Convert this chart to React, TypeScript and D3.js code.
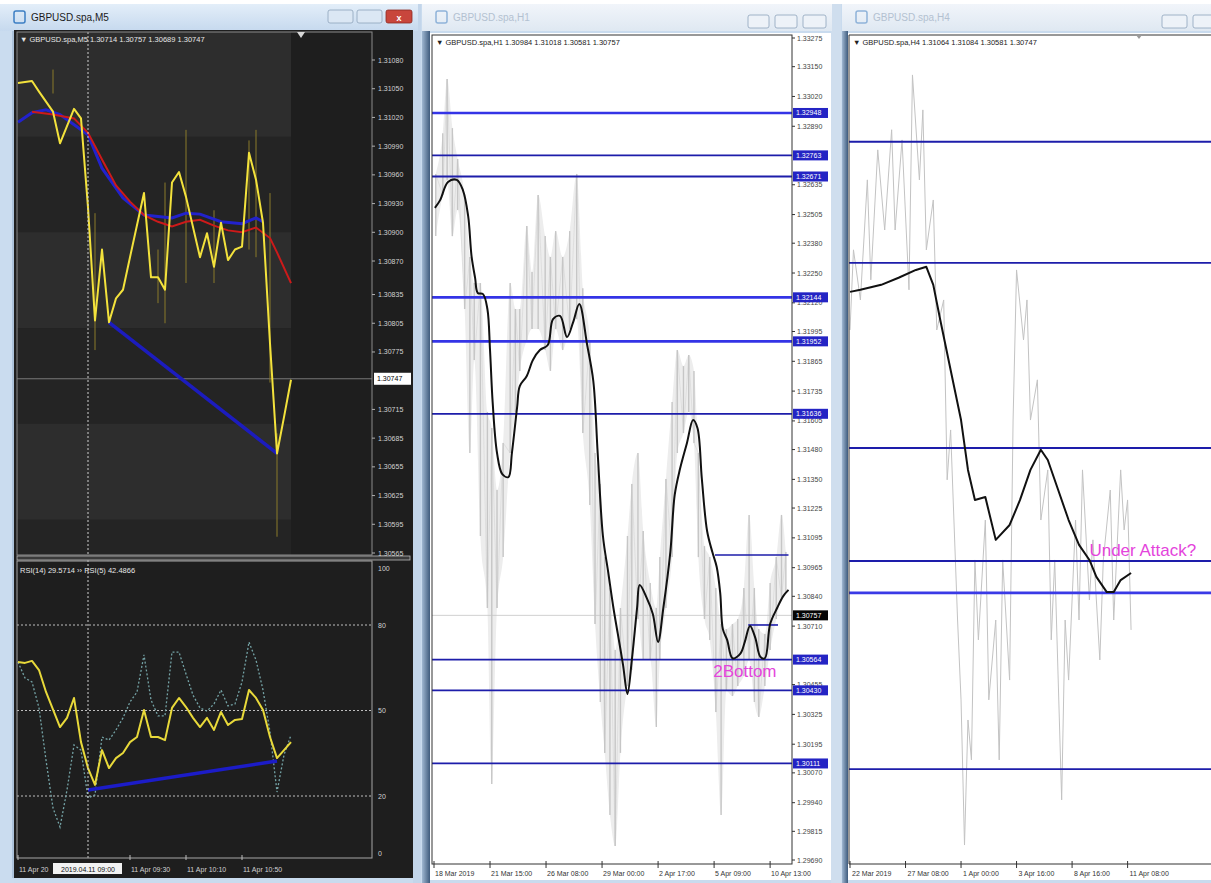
import * as d3 from 'd3';

const W = 1211;
const H = 883;

// ---------- GBPUSD.spa,M5 (left window) ----------
const m5Header = '▼ GBPUSD.spa,M5  1.30714 1.30757 1.30689 1.30747';
const m5Times = ['08:10', '08:20', '08:25', '08:35', '08:40', '08:50', '08:55', '09:00', '09:05', '09:10', '09:15', '09:20', '09:25', '09:30', '09:40', '09:45', '09:50', '09:55', '10:00', '10:05', '10:10', '10:20', '10:25', '10:30', '10:35', '10:40', '10:45', '10:50', '10:55', '11:00', '11:05', '11:10', '11:15', '11:20', '11:25'];
const m5Close = [1.31056, 1.31058, 1.31047, 1.31026, 1.30993, 1.31029, 1.31019, 1.30926, 1.30808, 1.30882, 1.30806, 1.30831, 1.3084, 1.30874, 1.30941, 1.30853, 1.30853, 1.3084, 1.30952, 1.30963, 1.30937, 1.30874, 1.30899, 1.30864, 1.3091, 1.30871, 1.30882, 1.30885, 1.30983, 1.30955, 1.3091, 1.30784, 1.30669, 1.30707, 1.30746];
const m5BlueTimes = ['08:10', '08:20', '08:30', '08:40', '09:00', '09:10', '09:25', '09:40', '10:00', '10:10', '10:20', '10:35', '10:50', '11:00', '11:05'];
const m5Blue = [1.31015, 1.31025, 1.31028, 1.31023, 1.31002, 1.30967, 1.30936, 1.30918, 1.30915, 1.3092, 1.30919, 1.30911, 1.30909, 1.30915, 1.30911];
const m5RedTimes = ['08:20', '08:35', '08:50', '09:00', '09:10', '09:20', '09:30', '09:40', '09:50', '10:00', '10:10', '10:20', '10:30', '10:40', '10:50', '11:00', '11:10', '11:15', '11:25'];
const m5Red = [1.31026, 1.31023, 1.31019, 1.31004, 1.30976, 1.30949, 1.30932, 1.30918, 1.30911, 1.30906, 1.30911, 1.30913, 1.30907, 1.30902, 1.309, 1.30905, 1.30894, 1.30879, 1.30847];
const m5WickTimes = ['08:35', '09:05', '09:50', '09:55', '10:10', '10:30', '10:55', '11:00', '11:10', '11:15'];
const m5WickHigh = [1.3107, 1.3092, 1.30882, 1.30952, 1.31007, 1.30923, 1.30996, 1.31007, 1.30941, 1.3069];
const m5WickLow = [1.31045, 1.30777, 1.30826, 1.30805, 1.30847, 1.30847, 1.30882, 1.30874, 1.30743, 1.30582];
const m5TrendTimes = ['09:15', '11:15'];
const m5TrendPrices = [1.30806, 1.30669];
const m5ZoneTop = [1.3115, 1.309, 1.307];
const m5ZoneBottom = [1.31, 1.308, 1.306];
const m5PriceTicks = [1.3108, 1.3105, 1.3102, 1.3099, 1.3096, 1.3093, 1.309, 1.3087, 1.30835, 1.30805, 1.30775, 1.30715, 1.30685, 1.30655, 1.30625, 1.30595, 1.30565];
const m5Last = 1.30747;
const m5Cross = '09:00';
const m5CrossLabel = '2019.04.11 09:00';
const m5DateTimes = ['08:10', '09:30', '10:10', '10:50'];
const m5DateLabels = ['11 Apr 20', '11 Apr 09:30', '11 Apr 10:10', '11 Apr 10:50'];

const rsiHeader = 'RSI(14) 29.5714   ›› RSI(5) 42.4866';
const rsi14Times = ['08:10', '08:15', '08:20', '08:25', '08:30', '08:40', '08:45', '08:50', '08:55', '09:00', '09:05', '09:10', '09:15', '09:20', '09:25', '09:30', '09:35', '09:40', '09:45', '09:50', '09:55', '10:00', '10:05', '10:10', '10:15', '10:20', '10:25', '10:30', '10:35', '10:40', '10:45', '10:50', '10:55', '11:00', '11:05', '11:10', '11:15', '11:20', '11:25'];
const rsi14 = [67.0, 66.7, 67.4, 64.2, 56.5, 44.2, 47.4, 54.4, 38.9, 29.8, 23.9, 36.1, 29.8, 33.3, 35.1, 38.9, 40.7, 50.2, 40.7, 40.7, 39.6, 50.9, 54.4, 51.2, 47.4, 44.2, 47.4, 43.2, 49.5, 44.9, 46.7, 47.0, 57.2, 54.4, 50.2, 40.7, 33.3, 36.1, 38.9];
const rsi5Start = '08:10';
const rsi5 = [67.0, 61.4, 60.0, 50.9, 32.6, 15.8, 9.1, 22.1, 37.9, 36.1, 19.3, 20.4, 40.7, 39.6, 43.2, 47.4, 53.0, 56.5, 69.5, 53.7, 48.1, 48.1, 70.5, 70.5, 62.8, 55.4, 50.9, 49.8, 52.3, 57.2, 51.6, 52.3, 60.0, 74.0, 67.7, 57.2, 42.5, 21.4, 34.4, 41.4];
const rsiLevels = [80, 50, 20];
const rsiTicks = [100, 80, 50, 20, 0];
const rsiTrendTimes = ['09:00', '11:15'];
const rsiTrendValues = [22.1, 32.3];

// ---------- GBPUSD.spa,H1 (middle window) ----------
const h1Header = '▼ GBPUSD.spa,H1  1.30984 1.31018 1.30581 1.30757';
const h1DateBars = [0, 64, 128, 192, 256, 320, 384];
const h1DateLabels = ['18 Mar 2019', '21 Mar 15:00', '26 Mar 08:00', '29 Mar 00:00', '2 Apr 17:00', '5 Apr 09:00', '10 Apr 13:00'];
const h1PriceTicks = [1.33275, 1.3315, 1.3302, 1.3289, 1.32635, 1.32505, 1.3238, 1.3225, 1.3212, 1.31995, 1.31865, 1.31735, 1.31605, 1.3148, 1.3135, 1.31225, 1.31095, 1.30965, 1.3084, 1.3071, 1.30455, 1.30325, 1.30195, 1.3007, 1.2994, 1.29815, 1.2969];
const h1Levels = [1.32948, 1.32763, 1.32671, 1.32144, 1.31952, 1.31636, 1.30564, 1.3043, 1.30111];
const h1ShortFrom = [321, 359];
const h1ShortTo = [405, 393];
const h1ShortPrice = [1.3102, 1.30715];
const h1BarIdx = [2, 10, 15, 21, 27, 35, 41, 46, 53, 61, 66, 72, 79, 87, 93, 98, 106, 112, 119, 127, 133, 139, 147, 155, 163, 170, 178, 184, 190, 195, 201, 207, 213, 221, 226, 233, 239, 247, 254, 258, 265, 272, 278, 285, 291, 297, 302, 309, 315, 322, 328, 334, 341, 347, 354, 360, 366, 371, 378, 384, 391, 397, 402];
const h1High = [1.32682, 1.3286, 1.33096, 1.32882, 1.32747, 1.3259, 1.3232, 1.32206, 1.32206, 1.31644, 1.31574, 1.31304, 1.31509, 1.32206, 1.32093, 1.32093, 1.32455, 1.32254, 1.3259, 1.32411, 1.3232, 1.32433, 1.3232, 1.32433, 1.32682, 1.32184, 1.31958, 1.31465, 1.3133, 1.31011, 1.30876, 1.30606, 1.30789, 1.31103, 1.3133, 1.31465, 1.31125, 1.30898, 1.30789, 1.31011, 1.31352, 1.31687, 1.31914, 1.31844, 1.31892, 1.31823, 1.31465, 1.31059, 1.31011, 1.30876, 1.30719, 1.30697, 1.30719, 1.30741, 1.30876, 1.31195, 1.30876, 1.30697, 1.30676, 1.30898, 1.31011, 1.31195, 1.31033];
const h1Low = [1.32411, 1.3259, 1.32655, 1.32411, 1.32525, 1.32093, 1.31465, 1.31871, 1.31103, 1.30789, 1.30021, 1.30789, 1.31011, 1.31465, 1.31644, 1.31823, 1.31958, 1.32006, 1.32006, 1.31914, 1.31823, 1.32006, 1.31914, 1.32006, 1.32049, 1.31552, 1.31238, 1.30719, 1.30379, 1.30157, 1.29886, 1.29751, 1.30157, 1.30449, 1.30519, 1.30741, 1.30562, 1.30562, 1.3027, 1.30562, 1.30789, 1.31011, 1.31465, 1.31552, 1.31644, 1.31509, 1.31011, 1.30741, 1.30649, 1.30335, 1.29886, 1.30427, 1.30405, 1.30449, 1.30492, 1.30562, 1.30379, 1.30314, 1.30449, 1.30606, 1.30741, 1.30833, 1.30854];
const h1MaBars = [1, 7, 16, 26, 33, 39, 43, 47, 50, 56, 61, 64, 67, 72, 78, 85, 89, 95, 98, 106, 113, 121, 130, 136, 144, 152, 159, 166, 175, 182, 187, 193, 199, 205, 210, 216, 221, 226, 232, 235, 243, 250, 256, 262, 270, 275, 281, 289, 296, 301, 306, 312, 318, 323, 327, 330, 335, 341, 350, 355, 361, 367, 373, 378, 384, 392, 399, 405];
const h1Ma = [1.32534, 1.32568, 1.32647, 1.32656, 1.32612, 1.32499, 1.3232, 1.32228, 1.32163, 1.32158, 1.32093, 1.31914, 1.31687, 1.31465, 1.31373, 1.3136, 1.31465, 1.31666, 1.31757, 1.31801, 1.31871, 1.31914, 1.31936, 1.32049, 1.32063, 1.31971, 1.32036, 1.32115, 1.31936, 1.31779, 1.31465, 1.31103, 1.30946, 1.30789, 1.30676, 1.3054, 1.30414, 1.30562, 1.30789, 1.30889, 1.30833, 1.30763, 1.30641, 1.30789, 1.31033, 1.31282, 1.31395, 1.31509, 1.31609, 1.31574, 1.31352, 1.31125, 1.31033, 1.30968, 1.30854, 1.30697, 1.30649, 1.3057, 1.3059, 1.3064, 1.30711, 1.3066, 1.30575, 1.3057, 1.30719, 1.30789, 1.30841, 1.30868];
const h1Last = 1.30757;
const h1Note = '2Bottom';
const h1NoteBar = 319;
const h1NotePrice = 1.3051;

// ---------- GBPUSD.spa,H4 (right window) ----------
const h4Header = '▼ GBPUSD.spa,H4  1.31064 1.31084 1.30581 1.30747';
const h4DateBars = [0, 16, 32, 48, 64, 80];
const h4DateLabels = ['22 Mar 2019', '27 Mar 08:00', '1 Apr 00:00', '3 Apr 16:00', '8 Apr 16:00', '11 Apr 08:00'];
const h4Levels = [1.32444, 1.3198, 1.31271, 1.30838, 1.30716, 1.30041];
const h4CloseBars = [0, 1, 3, 5, 6, 8, 10, 12, 13, 15, 17, 18, 20, 21, 22, 24, 25, 27, 28, 29, 31, 32, 33, 34, 35, 36, 37, 39, 40, 42, 43, 44, 46, 47, 48, 50, 51, 52, 54, 55, 57, 58, 59, 61, 62, 63, 65, 66, 67, 69, 70, 72, 73, 75, 76, 78, 79, 80, 81];
const h4Close = [1.31723, 1.3203, 1.31838, 1.32298, 1.31915, 1.32413, 1.32106, 1.3249, 1.32106, 1.32451, 1.31877, 1.327, 1.32298, 1.32566, 1.3203, 1.32221, 1.31723, 1.31838, 1.31149, 1.3134, 1.30612, 1.30306, 1.2975, 1.30229, 1.30076, 1.30842, 1.30536, 1.30995, 1.30306, 1.30612, 1.30076, 1.30842, 1.30382, 1.31378, 1.31953, 1.31685, 1.31838, 1.31378, 1.31532, 1.30995, 1.31187, 1.30536, 1.30842, 1.29923, 1.30612, 1.30382, 1.30995, 1.30612, 1.31187, 1.30689, 1.30919, 1.30459, 1.30842, 1.3111, 1.30612, 1.31187, 1.30957, 1.31072, 1.30574];
const h4MaBars = [0, 3, 9, 14, 19, 22, 24, 26, 29, 32, 34, 36, 39, 42, 46, 49, 52, 55, 57, 60, 63, 66, 69, 71, 74, 76, 78, 81];
const h4Ma = [1.31869, 1.31877, 1.31896, 1.31923, 1.31953, 1.31965, 1.31896, 1.31762, 1.3157, 1.31378, 1.31187, 1.31072, 1.31083, 1.30919, 1.30976, 1.31072, 1.31187, 1.31264, 1.31225, 1.3111, 1.30995, 1.309, 1.30842, 1.30777, 1.30719, 1.30719, 1.30765, 1.30792];
const h4Note = 'Under Attack?';
const h4NoteBar = 69;
const h4NotePrice = 1.3088;

const FONT = '"Liberation Sans", "DejaVu Sans", Arial, sans-serif';
const fmt5 = d3.format('.5f');
const hm = d3.timeParse('%H:%M');
const t = (s: string) => hm(s) as Date;

function zip<A, B>(a: A[], b: B[]): [A, B][] {
  return a.map((v, i) => [v, b[i]]);
}

function TitleBar({ x, w, title, active, buttons }: { x: number; w: number; title: string; active: boolean; buttons: number[][] }) {
  return (
    <g>
      <rect x={x} y={4} width={w} height={27} fill={active ? 'url(#tbActive)' : 'url(#tbIdle)'} />
      <rect x={x + 14} y={11} width={11} height={12} rx={2} fill="none" stroke={active ? '#3d7fc4' : '#8fb3d9'} strokeWidth={1.5} />
      <text x={x + 31} y={21} fontSize={10} fill={active ? '#1b1b1b' : '#b3c1d1'}>{title}</text>
      {buttons.map(([bx, bw, red], i) => (
        <g key={i}>
          <rect x={bx} y={active ? 10 : 15} width={bw} height={13} rx={2} fill={red ? '#c8463c' : active ? '#dbe7f4' : '#edf2f8'} stroke={red ? '#8e2a22' : '#8ea3bb'} strokeWidth={0.8} />
          {red ? <text x={bx + bw / 2} y={active ? 20.5 : 25} fontSize={9} textAnchor="middle" fill="#fff" fontWeight="bold">x</text> : null}
        </g>
      ))}
    </g>
  );
}

function LeftWindow() {
  const xM5 = d3.scaleTime().domain([t('08:10'), t('11:25')]).range([18, 291]);
  const yM5 = d3.scaleLinear().domain([1.30565, 1.3108]).range([553, 60]);
  const yRsi = d3.scaleLinear().domain([0, 100]).range([853, 568]);
  const priceLine = d3.line<[string, number]>().x((d) => xM5(t(d[0]))).y((d) => yM5(d[1]));
  const rsiLine = d3.line<[Date, number]>().x((d) => xM5(d[0])).y((d) => yRsi(d[1]));
  const rsi5Times = rsi5.map((_, i) => d3.timeMinute.offset(t(rsi5Start), 5 * i));
  const plotL = 17;
  const plotR = 372;
  const xCross = xM5(t(m5Cross));
  const zoneR = xM5(t(m5Times[m5Times.length - 1]));

  return (
    <g>
      <rect x={14} y={30} width={399} height={848} fill="#1e1e1e" />
      <clipPath id="m5clip"><rect x={plotL} y={32} width={plotR - plotL} height={523} /></clipPath>
      <clipPath id="rsiclip"><rect x={plotL} y={561} width={plotR - plotL} height={297} /></clipPath>
      <g clipPath="url(#m5clip)">
        <rect x={plotL} y={32} width={zoneR - plotL} height={523} fill="#242424" />
        {m5ZoneTop.map((top, i) => (
          <rect key={i} x={plotL} y={yM5(top)} width={zoneR - plotL} height={yM5(m5ZoneBottom[i]) - yM5(top)} fill="#2d2d2d" />
        ))}
        <line x1={plotL} x2={plotR} y1={yM5(m5Last)} y2={yM5(m5Last)} stroke="#8f8f8f" strokeWidth={0.8} />
        {m5WickTimes.map((tm, i) => (
          <line key={i} x1={xM5(t(tm))} x2={xM5(t(tm))} y1={yM5(m5WickHigh[i])} y2={yM5(m5WickLow[i])} stroke="#8a7b2a" strokeWidth={1} />
        ))}
        <path d={priceLine(zip(m5BlueTimes, m5Blue)) ?? ''} fill="none" stroke="#2222cc" strokeWidth={3} />
        <path d={priceLine(zip(m5RedTimes, m5Red)) ?? ''} fill="none" stroke="#cc1a1a" strokeWidth={2} />
        <path d={priceLine(zip(m5TrendTimes, m5TrendPrices)) ?? ''} fill="none" stroke="#1c1cbe" strokeWidth={3.5} />
        <path d={priceLine(zip(m5Times, m5Close)) ?? ''} fill="none" stroke="#f3e23c" strokeWidth={2} strokeLinejoin="round" />
      </g>
      <g clipPath="url(#rsiclip)">
        {rsiLevels.map((lv) => (
          <line key={lv} x1={plotL} x2={plotR} y1={yRsi(lv)} y2={yRsi(lv)} stroke="#bdbdbd" strokeWidth={1} strokeDasharray="2,2" />
        ))}
        <path d={rsiLine(zip(rsi5Times, rsi5)) ?? ''} fill="none" stroke="#74a3a6" strokeWidth={1.3} strokeDasharray="2,2" />
        <path d={rsiLine(zip(rsiTrendTimes.map(t), rsiTrendValues)) ?? ''} fill="none" stroke="#1c1cc8" strokeWidth={3.5} />
        <path d={rsiLine(zip(rsi14Times.map(t), rsi14)) ?? ''} fill="none" stroke="#e8d93a" strokeWidth={2} strokeLinejoin="round" />
      </g>
      <line x1={xCross} x2={xCross} y1={32} y2={858} stroke="#cfcfcf" strokeWidth={1} strokeDasharray="2,2" />
      {/* frames */}
      <rect x={plotL} y={32} width={plotR - plotL} height={523} fill="none" stroke="#8a8a8a" strokeWidth={1} />
      <rect x={plotL} y={556} width={plotR - plotL + 38} height={4} fill="#3a3a3a" stroke="#b8b8b8" strokeWidth={0.8} />
      <rect x={plotL} y={561} width={plotR - plotL} height={297} fill="none" stroke="#a6a6a6" strokeWidth={1} />
      <polygon points="297,32 305,32 301,38" fill="#d8d8d8" />
      <text x={20} y={42} fontSize={7.5} fill="#e6e6e6">{m5Header}</text>
      <text x={20} y={573} fontSize={7.5} fill="#e6e6e6">{rsiHeader}</text>
      {/* price axis */}
      {m5PriceTicks.map((p) => (
        <g key={p}>
          <line x1={plotR} x2={plotR + 3} y1={yM5(p)} y2={yM5(p)} stroke="#b0b0b0" />
          <text x={plotR + 6} y={yM5(p)} dominantBaseline="central" fontSize={7} fill="#d2d2d2">{fmt5(p)}</text>
        </g>
      ))}
      <rect x={plotR + 2} y={yM5(m5Last) - 6} width={37} height={12} fill="#ffffff" />
      <text x={plotR + 5} y={yM5(m5Last)} dominantBaseline="central" fontSize={7} fill="#000">{fmt5(m5Last)}</text>
      {rsiTicks.map((v) => (
        <text key={v} x={plotR + 6} y={yRsi(v)} dominantBaseline="central" fontSize={7} fill="#d2d2d2">{v}</text>
      ))}
      {/* time axis */}
      {m5DateTimes.map((tm, i) => (
        <g key={tm}>
          <line x1={xM5(t(tm))} x2={xM5(t(tm))} y1={855} y2={860} stroke="#bdbdbd" />
          <text x={xM5(t(tm)) + 1} y={869} dominantBaseline="central" fontSize={7} fill="#d2d2d2">{m5DateLabels[i]}</text>
        </g>
      ))}
      <rect x={xCross - 35} y={863} width={69} height={11} fill="#f2f2f2" />
      <text x={xCross} y={869} textAnchor="middle" dominantBaseline="central" fontSize={7} fill="#111">{m5CrossLabel}</text>
    </g>
  );
}

function MiddleWindow() {
  const xH1 = d3.scaleLinear().domain([0, 409]).range([434, 792]);
  const yH1 = d3.scaleLinear().domain([1.2969, 1.33275]).range([860, 38]);
  const maLine = d3.line<[number, number]>().x((d) => xH1(d[0])).y((d) => yH1(d[1])).curve(d3.curveCatmullRom);
  const band = d3
    .area<number>()
    .x((b) => xH1(b))
    .y0((_, i) => yH1(h1Low[i]))
    .y1((_, i) => yH1(h1High[i]))
    .curve(d3.curveMonotoneX);
  // zig-zag through alternating highs and lows, to give the dense bar texture
  const zig = d3.line<number>().x((b) => xH1(b)).y((_, i) => yH1(i % 2 ? h1Low[i] : h1High[i]));
  const bright = new Set([1.32948, 1.32144, 1.31952]);
  const plotL = 432;
  const plotR = 792;

  return (
    <g>
      <rect x={430} y={33} width={401} height={847} fill="#ffffff" />
      <clipPath id="h1clip"><rect x={plotL} y={35} width={plotR - plotL} height={829} /></clipPath>
      <g clipPath="url(#h1clip)">
        <path d={band(h1BarIdx) ?? ''} fill="#ededed" />
        <path d={zig(h1BarIdx) ?? ''} fill="none" stroke="#dadada" strokeWidth={0.8} />
        {h1BarIdx.map((b, i) => (
          <line key={b} x1={xH1(b)} x2={xH1(b)} y1={yH1(h1High[i])} y2={yH1(h1Low[i])} stroke="#c6c6c6" strokeWidth={1.4} />
        ))}
        <line x1={plotL} x2={plotR} y1={yH1(h1Last)} y2={yH1(h1Last)} stroke="#c4c4c4" strokeWidth={0.8} />
        {h1Levels.map((p) => (
          <line key={p} x1={plotL} x2={plotR} y1={yH1(p)} y2={yH1(p)} stroke={bright.has(p) ? '#3434e6' : '#1d1daa'} strokeWidth={bright.has(p) ? 2.6 : 1.8} />
        ))}
        {h1ShortPrice.map((p, i) => (
          <line key={p} x1={xH1(h1ShortFrom[i])} x2={xH1(h1ShortTo[i])} y1={yH1(p)} y2={yH1(p)} stroke="#1d1daa" strokeWidth={1.6} />
        ))}
        <path d={maLine(zip(h1MaBars, h1Ma)) ?? ''} fill="none" stroke="#111" strokeWidth={2} />
      </g>
      <text x={xH1(h1NoteBar)} y={yH1(h1NotePrice)} dominantBaseline="central" fontSize={17} fill="#e444dc">{h1Note}</text>
      <rect x={plotL} y={35} width={plotR - plotL} height={829} fill="none" stroke="#333" strokeWidth={1} />
      <text x={436} y={45} fontSize={7.5} fill="#222">{h1Header}</text>
      {h1PriceTicks.map((p) => (
        <g key={p}>
          <line x1={plotR} x2={plotR + 3} y1={yH1(p)} y2={yH1(p)} stroke="#333" />
          <text x={plotR + 5} y={yH1(p)} dominantBaseline="central" fontSize={7} fill="#444">{fmt5(p)}</text>
        </g>
      ))}
      {h1Levels.map((p) => (
        <g key={p}>
          <rect x={plotR + 1} y={yH1(p) - 5} width={35} height={10} fill="#2424c4" />
          <text x={plotR + 4} y={yH1(p)} dominantBaseline="central" fontSize={7} fill="#fff">{fmt5(p)}</text>
        </g>
      ))}
      <rect x={plotR + 1} y={yH1(h1Last) - 5} width={35} height={10} fill="#050505" />
      <text x={plotR + 4} y={yH1(h1Last)} dominantBaseline="central" fontSize={7} fill="#fff">{fmt5(h1Last)}</text>
      {h1DateBars.map((b, i) => (
        <g key={b}>
          <line x1={xH1(b)} x2={xH1(b)} y1={861} y2={868} stroke="#333" />
          <text x={xH1(b) + 1} y={873} dominantBaseline="central" fontSize={7} fill="#333">{h1DateLabels[i]}</text>
        </g>
      ))}
    </g>
  );
}

function RightWindow() {
  const xH4 = d3.scaleLinear().domain([0, 100]).range([850, 1197]);
  const yH4 = d3.scaleLinear().domain([1.29685, 1.32853]).range([862, 35]);
  const line = d3.line<[number, number]>().x((d) => xH4(d[0])).y((d) => yH4(d[1]));
  const plotL = 849;

  return (
    <g>
      <rect x={848} y={33} width={W - 848} height={847} fill="#ffffff" />
      <clipPath id="h4clip"><rect x={plotL} y={35} width={W - plotL} height={829} /></clipPath>
      <g clipPath="url(#h4clip)">
        <path d={line(zip(h4CloseBars, h4Close)) ?? ''} fill="none" stroke="#c3c3c3" strokeWidth={1} />
        {h4Levels.map((p) => (
          <line key={p} x1={plotL} x2={W} y1={yH4(p)} y2={yH4(p)} stroke={p === 1.30716 ? '#3a3ae6' : '#1d1daa'} strokeWidth={p === 1.30716 ? 2.6 : 1.8} />
        ))}
        <path d={line(zip(h4MaBars, h4Ma)) ?? ''} fill="none" stroke="#111" strokeWidth={2} strokeLinejoin="round" />
      </g>
      <text x={xH4(h4NoteBar)} y={yH4(h4NotePrice)} dominantBaseline="central" fontSize={17} fill="#e444dc">{h4Note}</text>
      <line x1={plotL} x2={plotL} y1={35} y2={864} stroke="#333" />
      <line x1={plotL} x2={W} y1={35} y2={35} stroke="#333" />
      <line x1={plotL} x2={W} y1={864} y2={864} stroke="#333" />
      <polygon points="1136,35 1142,35 1139,39" fill="#9a9a9a" />
      <text x={853} y={45} fontSize={7.5} fill="#222">{h4Header}</text>
      {h4DateBars.map((b, i) => (
        <g key={b}>
          <line x1={xH4(b)} x2={xH4(b)} y1={861} y2={868} stroke="#333" />
          <text x={xH4(b) + 2} y={873} dominantBaseline="central" fontSize={7} fill="#333">{h4DateLabels[i]}</text>
        </g>
      ))}
    </g>
  );
}

export default function App() {
  return (
    <svg width={W} height={H} fontFamily={FONT} style={{ position: 'absolute', left: 0, top: 0, display: 'block' }}>
      <defs>
        <linearGradient id="tbActive" x1="0" x2="0" y1="0" y2="1">
          <stop offset="0" stopColor="#e3eef9" />
          <stop offset="1" stopColor="#c6d9ee" />
        </linearGradient>
        <linearGradient id="tbIdle" x1="0" x2="0" y1="0" y2="1">
          <stop offset="0" stopColor="#f1f5fa" />
          <stop offset="1" stopColor="#dfe8f2" />
        </linearGradient>
        <linearGradient id="edge" x1="0" x2="1" y1="0" y2="0">
          <stop offset="0" stopColor="#9fb7d1" />
          <stop offset="1" stopColor="#3e5b7d" />
        </linearGradient>
      </defs>
      <rect width={W} height={H} fill="#c9dbee" />
      <rect width={W} height={4} fill="#ffffff" />
      {/* window edges */}
      <rect x={0} y={4} width={14} height={H} fill="#cadcef" />
      <line x1={13} x2={13} y1={30} y2={878} stroke="#8fa9c6" />
      <rect x={413} y={4} width={8} height={H} fill="#c2d5ea" />
      <rect x={422} y={31} width={8} height={H} fill="url(#edge)" />
      <rect x={831} y={4} width={10} height={H} fill="#cfdeee" />
      <rect x={842} y={31} width={6} height={H} fill="url(#edge)" />
      <TitleBar x={0} w={418} title="GBPUSD.spa,M5" active buttons={[[328, 25, 0], [357, 25, 0], [386, 26, 1]]} />
      <TitleBar x={422} w={410} title="GBPUSD.spa,H1" active={false} buttons={[[748, 21, 0], [775, 22, 0], [803, 23, 0]]} />
      <TitleBar x={842} w={W - 842} title="GBPUSD.spa,H4" active={false} buttons={[[1162, 25, 0], [1193, 25, 0]]} />
      <LeftWindow />
      <MiddleWindow />
      <RightWindow />
    </svg>
  );
}
